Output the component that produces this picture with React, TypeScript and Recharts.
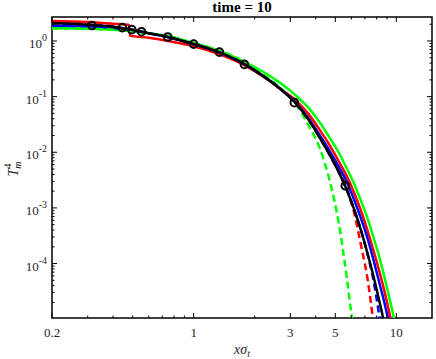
import { LineChart, Line, XAxis, YAxis, ReferenceArea } from 'recharts';

// common x grid (x * sigma_t)
const xGrid = [0.2, 0.3, 0.4, 0.48, 0.6, 0.75, 1, 1.3, 1.7, 2.2, 2.7, 3.2, 3.7, 4.2, 4.7, 5.2, 5.7, 6.2, 6.7, 7.2, 7.7, 8.2, 8.7, 9.2, 9.7, 10.2];

const blackT4 = [2.1, 1.96, 1.8, 1.62, 1.38, 1.17, 0.88, 0.65, 0.42, 0.236, 0.134, 0.075, 0.038, 0.018, 0.0089, 0.0044, 0.0021, 9.3e-4, 3.9e-4, 1.55e-4, 6.1e-5, 2.3e-5, 8.8e-6, 3.2e-6, 1.1e-6, 4e-7];
const blueT4 = [1.88, 1.82, 1.72, 1.6, 1.37, 1.17, 0.88, 0.65, 0.42, 0.237, 0.135, 0.077, 0.04, 0.02, 0.0104, 0.0055, 0.0029, 1.38e-3, 6.4e-4, 2.9e-4, 1.2e-4, 4.9e-5, 2.1e-5, 8.5e-6, 3.2e-6, 1.2e-6];
const greenT4 = [1.69, 1.66, 1.6, 1.52, 1.38, 1.22, 0.92, 0.69, 0.46, 0.28, 0.172, 0.104, 0.062, 0.034, 0.018, 0.0099, 0.0051, 2.7e-3, 1.33e-3, 6.6e-4, 3.0e-4, 1.4e-4, 6.1e-5, 2.6e-5, 1.1e-5, 4e-6];

// red solid has a jump near x = 0.48
const redX = [0.2, 0.3, 0.4, 0.48, 0.485, 0.6, 0.75, 1, 1.3, 1.7, 2.2, 2.7, 3.2, 3.7, 4.2, 4.7, 5.2, 5.7, 6.2, 6.7, 7.2, 7.7, 8.2, 8.7, 9.2, 9.7, 10.2];
const redT4 = [2.29, 2.2, 2.05, 1.94, 1.25, 1.14, 1.0, 0.8, 0.6, 0.4, 0.23, 0.135, 0.085, 0.048, 0.025, 0.0132, 0.0069, 0.0037, 1.86e-3, 8.8e-4, 4.0e-4, 1.77e-4, 7.8e-5, 3.4e-5, 1.4e-5, 5.5e-6, 2e-6];

// dashed curves
const greenDashT4 = [1.69, 1.66, 1.6, 1.52, 1.38, 1.22, 0.92, 0.69, 0.46, 0.25, 0.14, 0.072, 0.03, 0.0115, 3.0e-3, 5.3e-4, 5.5e-5, 4.5e-6];
const redDashT4 = [2.1, 1.96, 1.8, 1.62, 1.38, 1.17, 0.88, 0.65, 0.42, 0.236, 0.134, 0.075, 0.038, 0.018, 0.0089, 0.0046, 0.0022, 8e-4, 2.1e-4, 5.5e-5, 9e-6];
const blueDashT4 = [2.1, 1.96, 1.8, 1.62, 1.38, 1.17, 0.88, 0.65, 0.42, 0.236, 0.134, 0.075, 0.038, 0.018, 0.0089, 0.0044, 0.0021, 9.3e-4, 3.9e-4, 1.5e-4, 5.2e-5, 1.3e-5, 3e-6];

// reference points (circles)
const markerX = [0.315, 0.445, 0.495, 0.553, 0.745, 1, 1.34, 1.78, 3.14, 5.6];
const markerT4 = [1.9, 1.74, 1.6, 1.47, 1.18, 0.88, 0.63, 0.38, 0.078, 0.0025];

const xLabels = [0.2, 1, 3, 5, 10];
const xTicks = [0.2, 0.3, 0.4, 0.5, 0.6, 0.7, 0.8, 0.9, 1, 2, 3, 4, 5, 6, 7, 8, 9, 10];
const yExponents = [-5, -4, -3, -2, -1, 0];

const X_DOMAIN = [0.2, 15];
const Y_DOMAIN = [1.05e-5, 2.7];

const PLOT_TOP = 17;
const PLOT_BOTTOM = 318;
const PLOT_LEFT = 52;
const PLOT_RIGHT = 432;
const FONT = '"Liberation Serif", "Times New Roman", serif';

const yTicks: number[] = [];
yExponents.forEach((e) => {
  for (let m = 1; m <= 9; m++) {
    const v = m * Math.pow(10, e);
    if (v >= Y_DOMAIN[0] && v <= Y_DOMAIN[1]) yTicks.push(v);
  }
});

const toPoints = (xs: number[], ys: number[]) => ys.map((y, i) => ({ x: xs[i], y }));

const XTick = (props: any) => {
  const { x, payload } = props;
  const major = xLabels.includes(payload.value);
  const len = major ? 5 : 2.5;
  return (
    <g>
      <line x1={x} x2={x} y1={PLOT_BOTTOM} y2={PLOT_BOTTOM - len} stroke="#000" strokeWidth={1} />
      <line x1={x} x2={x} y1={PLOT_TOP} y2={PLOT_TOP + len} stroke="#000" strokeWidth={1} />
      {major && (
        <text x={x} y={337} textAnchor="middle" style={{ fontFamily: FONT, fontSize: 13 }} fill="#262626">
          {payload.value}
        </text>
      )}
    </g>
  );
};

const YTick = (props: any) => {
  const { y, payload } = props;
  const lg = Math.log10(payload.value);
  const major = Math.abs(lg - Math.round(lg)) < 1e-9;
  const len = major ? 5 : 2.5;
  return (
    <g>
      <line x1={PLOT_LEFT} x2={PLOT_LEFT + len} y1={y} y2={y} stroke="#000" strokeWidth={1} />
      <line x1={PLOT_RIGHT} x2={PLOT_RIGHT - len} y1={y} y2={y} stroke="#000" strokeWidth={1} />
      {major && (
        <text x={47} y={y + 7} textAnchor="end" style={{ fontFamily: FONT, fontSize: 13 }} fill="#262626">
          10
          <tspan dy={-7} style={{ fontSize: 10 }}>{Math.round(lg)}</tspan>
        </text>
      )}
    </g>
  );
};

const App = () => {
  return (
    <div style={{ position: 'absolute', left: 0, top: 0, background: '#fff', fontFamily: FONT }}>
      <LineChart width={436} height={359} margin={{ top: PLOT_TOP, right: 436 - PLOT_RIGHT, left: 0, bottom: 0 }}>
        <XAxis
          dataKey="x"
          type="number"
          scale="log"
          domain={X_DOMAIN}
          ticks={xTicks}
          interval={0}
          allowDataOverflow
          height={359 - PLOT_BOTTOM}
          axisLine={false}
          tickLine={false}
          tick={(p: any) => <XTick {...p} />}
        />
        <YAxis
          type="number"
          scale="log"
          domain={Y_DOMAIN}
          ticks={yTicks}
          interval={0}
          allowDataOverflow
          width={PLOT_LEFT}
          axisLine={false}
          tickLine={false}
          tick={(p: any) => <YTick {...p} />}
        />
        <ReferenceArea
          x1={X_DOMAIN[0]}
          x2={X_DOMAIN[1]}
          y1={Y_DOMAIN[0]}
          y2={Y_DOMAIN[1]}
          fill="none"
          stroke="#000"
          strokeWidth={1.5}
          ifOverflow="visible"
        />
        <Line data={toPoints(xGrid, greenT4)} dataKey="y" type="monotone" stroke="#00ff00" strokeWidth={2.5} dot={false} isAnimationActive={false} />
        <Line data={toPoints(redX, redT4)} dataKey="y" type="monotone" stroke="#ff0000" strokeWidth={2.5} dot={false} isAnimationActive={false} />
        <Line data={toPoints(xGrid, blueT4)} dataKey="y" type="monotone" stroke="#0000ff" strokeWidth={2.5} dot={false} isAnimationActive={false} />
        <Line data={toPoints(xGrid, greenDashT4)} dataKey="y" type="monotone" stroke="#00ff00" strokeWidth={2.5} strokeDasharray="7 4" dot={false} isAnimationActive={false} />
        <Line data={toPoints(xGrid, redDashT4)} dataKey="y" type="monotone" stroke="#ff0000" strokeWidth={2.5} strokeDasharray="7 4" dot={false} isAnimationActive={false} />
        <Line data={toPoints(xGrid, blueDashT4)} dataKey="y" type="monotone" stroke="#0000ff" strokeWidth={2.5} strokeDasharray="7 4" dot={false} isAnimationActive={false} />
        <Line data={toPoints(xGrid, blackT4)} dataKey="y" type="monotone" stroke="#000" strokeWidth={2.5} dot={false} isAnimationActive={false} />
        <Line
          data={toPoints(markerX, markerT4)}
          dataKey="y"
          stroke="none"
          dot={{ r: 3.8, stroke: '#000', strokeWidth: 2, fill: 'none' }}
          isAnimationActive={false}
        />
        <text x={242} y={12} textAnchor="middle" style={{ fontFamily: FONT, fontSize: 15, fontWeight: 'bold' }} fill="#000">
          time = 10
        </text>
        <text x={242} y={354} textAnchor="middle" style={{ fontFamily: FONT, fontSize: 14, fontStyle: 'italic' }} fill="#262626">
          xσ
          <tspan dy={3} style={{ fontSize: 10 }}>t</tspan>
        </text>
        <text
          x={18}
          y={169}
          transform="rotate(-90 18 169)"
          textAnchor="middle"
          style={{ fontFamily: FONT, fontSize: 14, fontStyle: 'italic' }}
          fill="#262626"
        >
          T
          <tspan dy={3} style={{ fontSize: 10 }}>m</tspan>
          <tspan dx={-7} dy={-10} style={{ fontSize: 10, fontStyle: 'normal' }}>4</tspan>
        </text>
      </LineChart>
    </div>
  );
};

export default App;
